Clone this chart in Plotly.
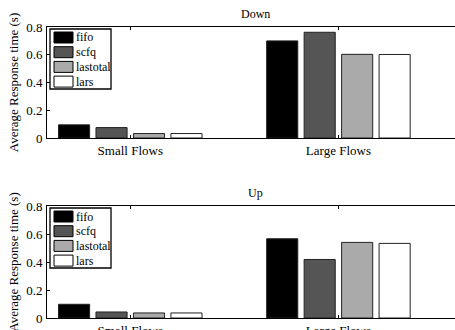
import plotly.graph_objects as go

categories = ["Small Flows", "Large Flows"]
series_names = ["fifo", "scfq", "lastotal", "lars"]
down_values = {
    "fifo": [0.095, 0.70],
    "scfq": [0.075, 0.762],
    "lastotal": [0.032, 0.603],
    "lars": [0.032, 0.602],
}
up_values = {
    "fifo": [0.098, 0.566],
    "scfq": [0.043, 0.418],
    "lastotal": [0.036, 0.540],
    "lars": [0.036, 0.533],
}
y_ticks = [0, 0.2, 0.4, 0.6, 0.8]
y_ticktext = ["0", "0.2", "0.4", "0.6", "0.8"]
panel_titles = ["Down", "Up"]

fills = {"fifo": "#000000", "scfq": "#555555", "lastotal": "#aaaaaa", "lars": "#ffffff"}
FONT = "Liberation Serif, Times New Roman, serif"

W, H = 455, 330
L, R, T, B = 47, 0, 27, 12
PW, PH = W - L - R, H - T - B


def px_x(px):
    return (px - L) / PW


def px_y(py):
    return (H - B - py) / PH


fig = go.Figure()
for name in series_names:
    fig.add_trace(go.Bar(x=categories, y=down_values[name], name=name, showlegend=False,
                         marker=dict(color=fills[name], line=dict(color="#222", width=1)),
                         xaxis="x", yaxis="y"))
for name in series_names:
    fig.add_trace(go.Bar(x=categories, y=up_values[name], name=name, showlegend=False,
                         marker=dict(color=fills[name], line=dict(color="#222", width=1)),
                         xaxis="x2", yaxis="y2"))

xcommon = dict(type="category", range=[-0.4, 1.56], showline=True, linecolor="black",
               linewidth=1, mirror="ticks", ticks="inside", ticklen=3, tickcolor="black",
               showgrid=False, zeroline=False, tickfont=dict(family=FONT, size=13, color="black"),
               ticklabelstandoff=0, automargin=False)
ycommon = dict(range=[0, 0.8], tickvals=y_ticks, ticktext=y_ticktext, showline=True,
               linecolor="black", linewidth=1, ticks="inside", ticklen=3, tickcolor="black",
               showgrid=False, zeroline=False, tickfont=dict(family=FONT, size=13, color="black"),
               title=dict(text="Average Response time (s)", font=dict(family=FONT, size=13, color="black"),
                          standoff=4),
               ticklabelstandoff=1, automargin=False)

shapes = []
annotations = []
# panel titles
for title, py in zip(panel_titles, [14, 193]):
    annotations.append(dict(text=title, x=px_x(255), y=px_y(py), xref="paper", yref="paper",
                            xanchor="center", yanchor="middle", showarrow=False,
                            font=dict(family=FONT, size=12, color="black")))

# legends (one per panel), drawn as boxes with swatches
for top in [29, 208]:
    shapes.append(dict(type="rect", xref="paper", yref="paper",
                       x0=px_x(50), x1=px_x(111), y0=px_y(top), y1=px_y(top + 60),
                       fillcolor="white", line=dict(color="black", width=1.3), layer="above"))
    for i, name in enumerate(series_names):
        yc = top + 8.5 + i * 14.7
        shapes.append(dict(type="rect", xref="paper", yref="paper",
                           x0=px_x(54), x1=px_x(73), y0=px_y(yc - 5.5), y1=px_y(yc + 5.5),
                           fillcolor=fills[name], line=dict(color="black", width=1), layer="above"))
        annotations.append(dict(text=name, x=px_x(74), y=px_y(yc), xref="paper", yref="paper",
                                xanchor="left", yanchor="middle", showarrow=False,
                                font=dict(family=FONT, size=12, color="black")))

fig.update_layout(
    width=W, height=H,
    margin=dict(l=L, r=R, t=T, b=B),
    plot_bgcolor="white", paper_bgcolor="white",
    barmode="group", bargap=0.28, bargroupgap=0.17,
    showlegend=False,
    xaxis=dict(domain=[0, 1], anchor="y", **xcommon),
    yaxis=dict(domain=[px_y(138), 1.0], anchor="x", **ycommon),
    xaxis2=dict(domain=[0, 1], anchor="y2", **xcommon),
    yaxis2=dict(domain=[0.0, px_y(206)], anchor="x2", **ycommon),
    shapes=shapes,
    annotations=annotations,
)

fig.write_html("out.html", config={"displayModeBar": False},
               post_script="document.body.style.margin='0px';")
